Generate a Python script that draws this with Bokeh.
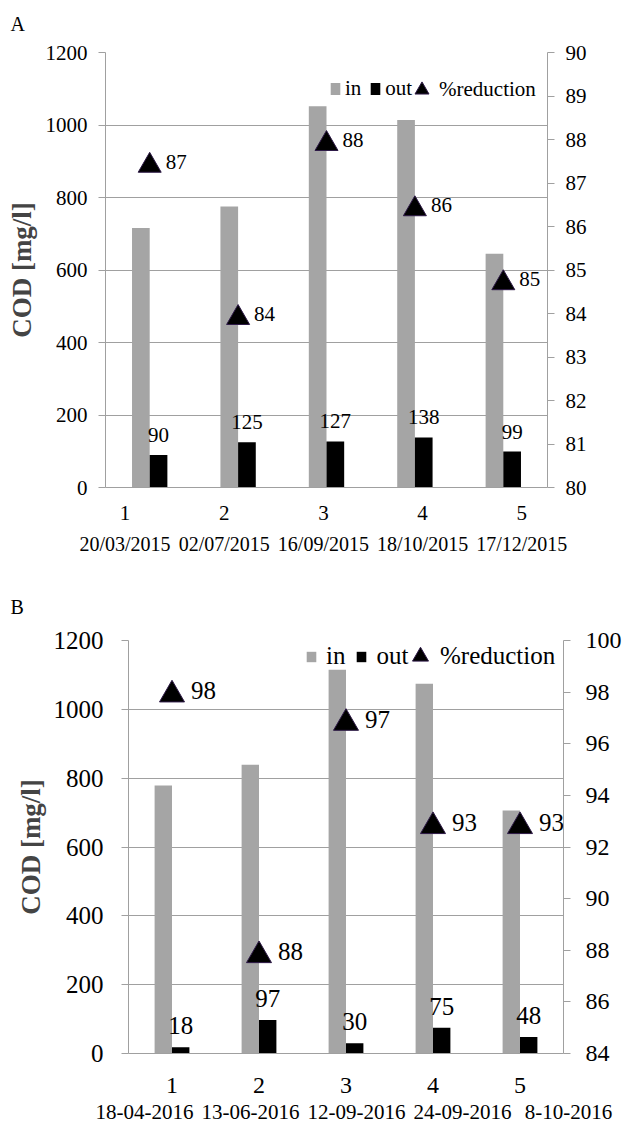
from bokeh.plotting import figure
from bokeh.models import (Range1d, LinearAxis, FixedTicker, ColumnDataSource, LabelSet,
                          Legend, LegendItem)
from bokeh.transform import dodge
from bokeh.embed import file_html
from bokeh.resources import INLINE
from bokeh.core.properties import value

SERIF = "Liberation Serif"
GRAY = "#a5a5a5"
LINE = "#a0a0a0"
TRI_LINE = "#2e1a47"
PAGE_W = 625

# ---------------- data ----------------
sample_no = [1, 2, 3, 4, 5]
left_ticks = [0, 200, 400, 600, 800, 1000, 1200]

a_dates = ["20/03/2015", "02/07/2015", "16/09/2015", "18/10/2015", "17/12/2015"]
a_in = [716, 775, 1052, 1014, 645]
a_out = [90, 125, 127, 138, 99]
a_red = [87.4, 83.9, 87.9, 86.4, 84.7]
a_right_ticks = [80, 81, 82, 83, 84, 85, 86, 87, 88, 89, 90]

b_dates = ["18-04-2016", "13-06-2016", "12-09-2016", "24-09-2016", "8-10-2016"]
b_in = [779, 839, 1115, 1074, 706]
b_out = [18, 97, 30, 75, 48]
b_red = [97.9, 87.8, 96.8, 92.8, 92.8]
b_right_ticks = [84, 86, 88, 90, 92, 94, 96, 98, 100]

panel_letters = ["A", "B"]


def style_axis(ax, fs, standoff):
    ax.major_label_text_font = SERIF
    ax.major_label_text_font_size = fs
    ax.major_label_text_color = "black"
    ax.major_label_standoff = standoff
    ax.major_tick_out = 7
    ax.major_tick_in = 0
    ax.minor_tick_out = 0
    ax.minor_tick_in = 0
    ax.axis_line_color = LINE
    ax.major_tick_line_color = LINE


def make_chart(vin, vout, vred, right_ticks, L):
    p = figure(width=PAGE_W, height=L["height"], output_backend="svg", toolbar_location=None,
               title_location=None,
               x_range=Range1d(0.5, 5.5), y_range=Range1d(left_ticks[0], left_ticks[-1]),
               min_border_left=L["bl"], min_border_right=L["br"],
               min_border_top=L["bt"], min_border_bottom=L["bb"])
    p.outline_line_color = None
    p.extra_y_ranges = {"pct": Range1d(right_ticks[0], right_ticks[-1])}

    src = ColumnDataSource(dict(
        x=sample_no, vin=vin, vout=vout, red=vred,
        out_lbl=[str(v) for v in vout],
        red_lbl=[f"{v:.0f}" for v in vred],
    ))

    r_in = p.vbar(x=dodge("x", -0.1, range=p.x_range), top="vin", width=0.2,
                  fill_color=GRAY, line_color=None, source=src)
    r_out = p.vbar(x=dodge("x", 0.1, range=p.x_range), top="vout", width=0.2,
                   fill_color="black", line_color=None, source=src)
    r_tri = p.scatter(x="x", y="red", marker="triangle", size=L["tri"], fill_color="black",
                      line_color=TRI_LINE, line_width=1, y_range_name="pct", source=src)

    ya = p.yaxis[0]
    ya.ticker = FixedTicker(ticks=left_ticks)
    ya.axis_label = "COD [mg/l]"
    ya.axis_label_text_font = SERIF
    ya.axis_label_text_font_style = "bold"
    ya.axis_label_text_font_size = "27px"
    ya.axis_label_standoff = L["ylab_standoff"]
    style_axis(ya, L["tick_fs"], L["ltick_standoff"])

    ra = LinearAxis(y_range_name="pct", ticker=FixedTicker(ticks=right_ticks))
    style_axis(ra, L["rtick_fs"], L["rtick_standoff"])
    p.add_layout(ra, "right")

    xa = p.xaxis[0]
    xa.ticker = FixedTicker(ticks=[])
    xa.major_tick_out = 0
    xa.major_tick_in = 0
    xa.minor_tick_out = 0
    xa.minor_tick_in = 0
    xa.axis_line_color = LINE
    xa.major_label_text_font_size = "0px"

    p.xgrid.visible = False
    p.ygrid.ticker = FixedTicker(ticks=left_ticks)
    p.ygrid.grid_line_color = LINE

    p.add_layout(LabelSet(x="x", y="red", text="red_lbl", y_range_name="pct", source=src,
                          x_offset=L["tri_lbl_dx"], y_offset=L["tri_lbl_dy"],
                          text_align="left", text_baseline="middle",
                          text_font=value(SERIF), text_font_size=value(L["lbl_fs"]),
                          text_color="black"))
    p.add_layout(LabelSet(x=dodge("x", 0.1, range=p.x_range), y="vout", text="out_lbl",
                          source=src, y_offset=13, text_align="center",
                          text_baseline="alphabetic",
                          text_font=value(SERIF), text_font_size=value(L["lbl_fs"]),
                          text_color="black"))

    common = dict(orientation="horizontal", padding=0, margin=0, border_line_color=None,
                  background_fill_alpha=0, label_text_font=SERIF, label_width=0,
                  label_text_font_size=L["leg_fs"], label_text_color="black")
    leg1 = Legend(items=[LegendItem(label="in", renderers=[r_in]),
                         LegendItem(label="out", renderers=[r_out])],
                  location=L["leg1_loc"], glyph_width=12, glyph_height=L["sq_h"],
                  label_standoff=L["sq_standoff"], spacing=L["leg_spacing"], **common)
    leg2 = Legend(items=[LegendItem(label="%reduction", renderers=[r_tri])],
                  location=L["leg2_loc"], glyph_width=L["tri_box"], glyph_height=L["tri_box"],
                  label_standoff=0, **common)
    p.add_layout(leg1)
    p.add_layout(leg2)
    return p


def blank_strip(h):
    s = figure(width=PAGE_W, height=h, output_backend="svg", toolbar_location=None,
               title_location=None, x_range=Range1d(0, PAGE_W), y_range=Range1d(0, h),
               min_border=0, x_axis_location=None, y_axis_location=None)
    s.outline_line_color = None
    s.grid.visible = False
    return s


def add_letter(s, letter, y):
    s.text(x=[10], y=[y], text=[letter], text_align="left", text_baseline="middle",
           text_font=value(SERIF), text_font_size=value("20px"), text_color="black")


def add_sample_rows(s, dates, L):
    """Sample numbers and dates printed under a chart."""
    n0, npitch = L["num_px0"], L["num_pitch"]
    d0, dpitch = L["date_px0"], L["date_pitch"]
    s.extra_x_ranges = {
        "num": Range1d(1 - n0 / npitch, 1 - n0 / npitch + PAGE_W / npitch),
        "date": Range1d(1 - d0 / dpitch, 1 - d0 / dpitch + PAGE_W / dpitch)}
    src = ColumnDataSource(dict(x=sample_no, num=[str(n) for n in sample_no], date=dates))
    s.text(x="x", y=L["num_y"], text="num", source=src, x_range_name="num",
           text_align="center", text_baseline="middle", text_font=value(SERIF),
           text_font_size=value(L["num_fs"]), text_color="black")
    s.text(x="x", y=L["date_y"], text="date", source=src, x_range_name="date",
           text_align="center", text_baseline="middle", text_font=value(SERIF),
           text_font_size=value(L["date_fs"]), text_color="black")


# chart A: frame x 105..547, y 52..487 (page); figure spans 40..500
A = dict(height=460, bl=105, br=78, bt=12, bb=13,
         tri=23, tri_lbl_dx=16, tri_lbl_dy=4, lbl_fs="21px",
         ylab_standoff=6, tick_fs="21px", ltick_standoff=11,
         rtick_fs="21px", rtick_standoff=11,
         leg_fs="21px", sq_h=15, sq_standoff=4, leg_spacing=8, tri_box=35,
         leg1_loc=(224, 386), leg2_loc=(299, 380),
         num_px0=124.5, num_pitch=99.2, date_px0=124.5, date_pitch=99.2,
         num_y=108, date_y=77, num_fs="21px", date_fs="20px")

# chart B: frame x 128..563, y 640..1053 (page); figure spans 620..1067
B = dict(height=447, bl=128, br=62, bt=20, bb=14,
         tri=25, tri_lbl_dx=19, tri_lbl_dy=4, lbl_fs="25px",
         ylab_standoff=5, tick_fs="25px", ltick_standoff=18,
         rtick_fs="24px", rtick_standoff=15,
         leg_fs="25px", sq_h=13, sq_standoff=9, leg_spacing=10, tri_box=40,
         leg1_loc=(177, 383), leg2_loc=(272, 377),
         num_px0=171.5, num_pitch=87.0, date_px0=144, date_pitch=106,
         num_y=39.5, date_y=12.5, num_fs="24px", date_fs="21px")

top_strip = blank_strip(40)
add_letter(top_strip, panel_letters[0], 40 - 23.5)

pA = make_chart(a_in, a_out, a_red, a_right_ticks, A)

mid_strip = blank_strip(120)
add_sample_rows(mid_strip, a_dates, A)
add_letter(mid_strip, panel_letters[1], 620 - 606.5)

pB = make_chart(b_in, b_out, b_red, b_right_ticks, B)

bot_strip = blank_strip(57)
add_sample_rows(bot_strip, b_dates, B)

open("out.html", "w").write(file_html([top_strip, pA, mid_strip, pB, bot_strip], INLINE))
